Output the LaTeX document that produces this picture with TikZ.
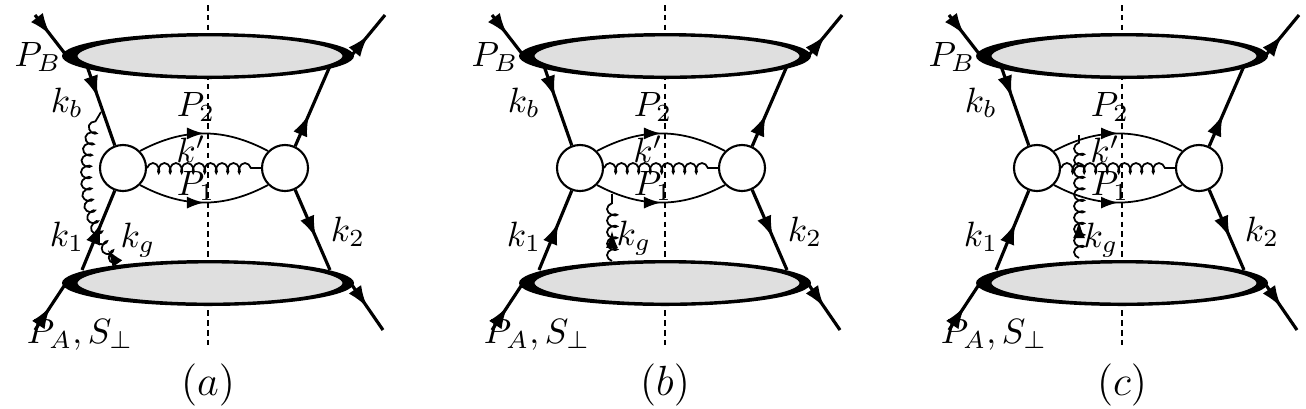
\documentclass[tikz,border=0pt]{standalone}
\usetikzlibrary{decorations.pathmorphing,decorations.markings,arrows.meta}
\tikzset{
    fermion/.style={line width=0.9pt, postaction={decorate},
        decoration={markings, mark=at position #1 with {\arrow{Latex[length=2.2mm,width=1.5mm]}}}},
    fermion/.default=0.5,
    arrowmid/.style={line width=0.5pt, postaction={decorate},
        decoration={markings, mark=at position #1 with {\arrow{Latex[length=1.7mm,width=1.2mm]}}}},
    arrowmid/.default=0.5,
    gluon/.style={line width=0.5pt, decorate,
        decoration={coil, amplitude=0.5mm, segment length=1.15mm, aspect=0.6}},
    blob/.style={circle, draw, line width=0.6pt, fill=white, minimum size=4.6mm, inner sep=0pt},
    lbl/.style={font=\normalsize, inner sep=1pt},
}
\begin{document}
\begin{tikzpicture}[x=0.01cm, y=0.01cm]
\useasboundingbox (0,0) rectangle (1306,408);
\foreach \p/\dx/\cap in {a/0/(a), b/457/(b), c/914/(c)} {
  \begin{scope}[xshift=\dx*0.01cm]
    % cut line
    \draw[dash pattern=on 1.6pt off 1.2pt, line width=0.6pt] (208,403) -- (208,63);
    % hadron blobs
    \fill (208,352) ellipse [x radius=146, y radius=23];
    \filldraw[fill=gray!25, line width=0.8pt] (210,352) ellipse [x radius=134, y radius=21];
    \fill (208,125) ellipse [x radius=146, y radius=23];
    \filldraw[fill=gray!25, line width=0.8pt] (210,125) ellipse [x radius=134, y radius=21];
    % hard parts
    \node[blob] (L\p) at (123,240) {};
    \node[blob] (R\p) at (285,240) {};
    \coordinate (tl\p) at (35,393);  \coordinate (ptl\p) at (66,353);
    \coordinate (tr\p) at (385,393); \coordinate (ptr\p) at (352,353);
    \coordinate (bl\p) at (35,78);   \coordinate (pbl\p) at (66,125);
    \coordinate (br\p) at (383,78);  \coordinate (pbr\p) at (352,123);
    \draw[fermion] (tl\p) -- (ptl\p);
    \draw[fermion] (ptr\p) -- (tr\p);
    \draw[fermion] (bl\p) -- (pbl\p);
    \draw[fermion] (pbr\p) -- (br\p);
    \coordinate (kb\p) at (87,342);  \coordinate (k1\p) at (82,138);
    \coordinate (kr\p) at (330,342); \coordinate (k2\p) at (330,138);
    \draw[fermion=0.4] (kb\p) -- (L\p.110);
    \draw[fermion=0.6] (k1\p) -- (L\p.250);
    \draw[fermion=0.4] (R\p.65) -- (kr\p);
    \draw[fermion=0.6] (R\p.295) -- (k2\p);
    \draw[arrowmid] (L\p.45) to[bend left=28] (R\p.135);
    \draw[arrowmid] (L\p.-45) to[bend right=28] (R\p.-135);
    \draw[gluon] (L\p.east) -- (R\p.west);
    % labels
    \node[lbl] at (38,351) {$P_B$};
    \node[lbl] at (80,73) {$P_A,S_\perp$};
    \node[lbl] at (67,305) {$k_b$};
    \node[lbl] at (67,171) {$k_1$};
    \node[lbl] at (348,176) {$k_2$};
    \node[lbl] at (196,301) {$P_2$};
    \node[lbl] at (196,222) {$P_1$};
    \node[lbl] at (191,259) {$k'$};
    \node[font=\large] at (208,23) {$\cap$};
  \end{scope}
}
% panel (a): gluon from A to k_b line
\coordinate (gaa) at (118,146);
\coordinate (gba) at (101,296);
\draw[gluon] (gaa) .. controls (80,183) and (78,258) .. (gba);
\draw[draw=none, arrowmid=0.1] (gaa) .. controls (80,183) and (78,258) .. (gba);
\node[lbl] at (138,168) {$k_g$};
% panel (b): gluon from A to P_1 line
\coordinate (gab) at (612,147);
\coordinate (gbb) at (612,214);
\draw[gluon] (gab) -- (gbb);
\draw[draw=none, arrowmid=0.45] (gab) -- (gbb);
\node[lbl] at (634,170) {$k_g$};
% panel (c): gluon from A across to P_2 line
\coordinate (gac) at (1079,150);
\coordinate (gbc) at (1079,273);
\draw[gluon] (gac) -- (gbc);
\draw[draw=none, arrowmid=0.3] (gac) -- (gbc);
\node[lbl] at (1101,168) {$k_g$};
\end{tikzpicture}
\end{document}
